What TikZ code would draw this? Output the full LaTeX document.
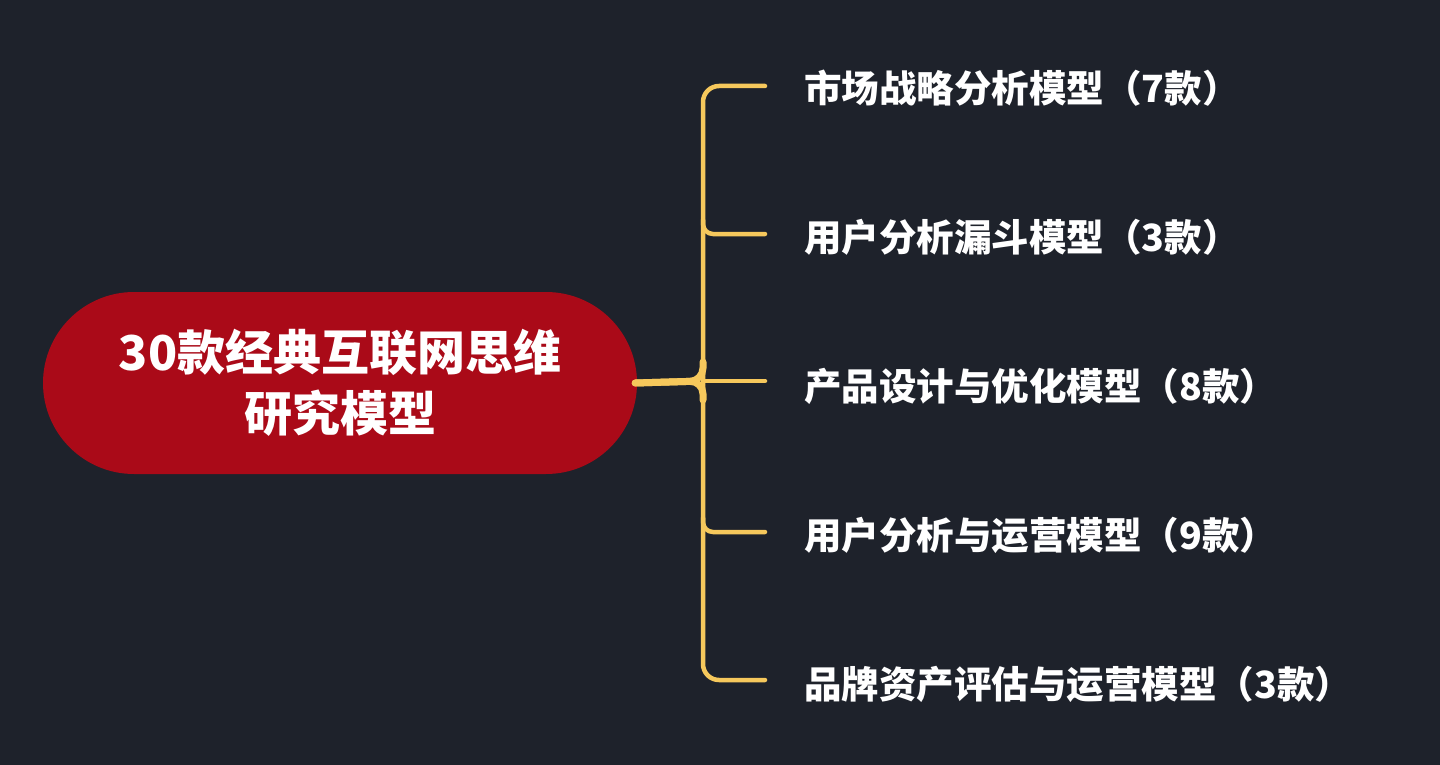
\documentclass[tikz,border=0pt]{standalone}
\usepackage{fontspec}
\setmainfont{Noto Sans CJK SC}
\usepackage{xcolor}
\usepackage{tikz}
\definecolor{bgdark}{RGB}{30,34,43}
\definecolor{rootred}{RGB}{170,10,24}
\definecolor{braceyellow}{RGB}{246,200,92}

\begin{document}
\begin{tikzpicture}[
    x=1pt, y=-1pt,
    root/.style={rectangle, fill=rootred, rounded corners=91pt, minimum width=594pt, minimum height=182pt, align=center, text=white, font=\fontsize{48}{61}\selectfont\bfseries},
    branch/.style={anchor=west, inner sep=0pt, text=white, font=\fontsize{37.5}{40}\selectfont\bfseries},
    brace/.style={draw=braceyellow, line width=4.5pt, line cap=round},
    stem/.style={draw=braceyellow, line width=7pt, line cap=round, rounded corners=13pt},
]

% Background
\fill[bgdark] (0,0) rectangle (1440,765);
\useasboundingbox (0,0) rectangle (1440,765);

% Root
\node[root] (root) at (340,383) {30款经典互联网思维\\研究模型};

% Branches
\node[branch] (mkt) at (804,88) {市场战略分析模型（7款）};
\node[branch] (fun) at (804,237) {用户分析漏斗模型（3款）};
\node[branch] (prd) at (804,386) {产品设计与优化模型（8款）};
\node[branch] (ops) at (804,535) {用户分析与运营模型（9款）};
\node[branch] (brd) at (804,684) {品牌资产评估与运营模型（3款）};

% Brace
\coordinate (top) at (765,86);
\coordinate (bot) at (765,680);
\coordinate (mid) at (765,381);
\draw[brace, rounded corners=16pt] (top) -- (703,86) -- (703,680) -- (bot);
\draw[brace, rounded corners=10pt] (703,220) -- (703,234) -- ([xshift=-39pt]fun.west |- 0,234);
\draw[brace, rounded corners=10pt] (703,518) -- (703,532) -- ([xshift=-39pt]ops.west |- 0,532);
\draw[stem] ([xshift=-2pt]root.east) -- (703,381) -- (703,362);
\draw[stem] ([xshift=-2pt]root.east) -- (703,381) -- (703,400);
\draw[brace] (703,381) -- (mid);

\end{tikzpicture}
\end{document}
